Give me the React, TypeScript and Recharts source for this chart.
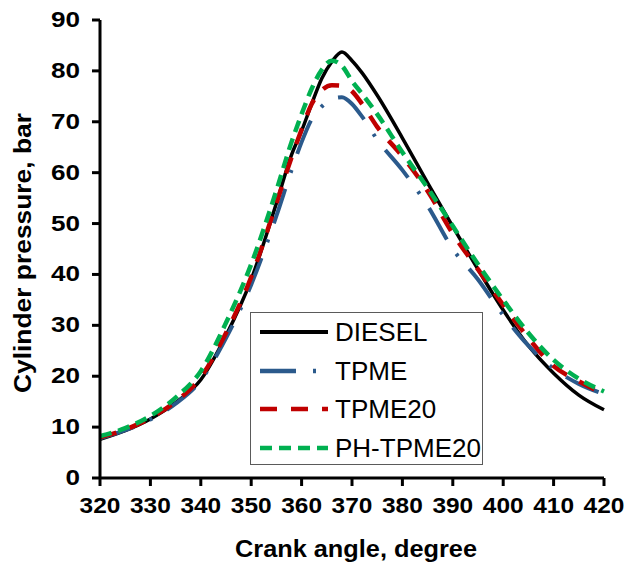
import React from "react";
import { LineChart, Line, XAxis, YAxis, Legend, Label } from "recharts";

// crank angle (deg) sample points
const angles = [
  320, 325, 330, 335, 340, 345, 350, 355, 358, 360, 362, 364, 366, 368, 370,
  372, 375, 380, 385, 390, 395, 400, 405, 410, 415, 420,
];

// cylinder pressure (bar)
const diesel = [
  7.6, 9.3, 11.6, 14.8, 19.3, 28, 39, 54, 63.5, 68.2, 73.5, 78.5, 81.8, 83.7,
  82, 79.6, 75.2, 66.8, 58, 49.4, 41, 33, 26, 20.6, 16.3, 13.4,
];
const tpme = [
  7.8, 9.4, 11.5, 14.6, 19.2, 27.5, 38, 51.5, 60.5, 66, 70.5, 73, 74.5, 74.8,
  73.5, 71, 66.5, 60.5, 53.5, 45, 39, 32, 26, 21.5, 18.5, 16.5,
];
const tpme20 = [
  8, 9.5, 11.8, 15, 19.8, 28.5, 39.5, 54, 63, 68.5, 73.5, 76.2, 77.2, 77.1, 76,
  73.5, 69, 63.2, 56.4, 48, 41, 34, 27.5, 22, 19, 16.5,
];
const phTpme20 = [
  8.2, 9.8, 12.2, 15.8, 21, 30.5, 42, 56.5, 66, 71.5, 76.5, 80.2, 82, 81, 78,
  75.5, 71.5, 64, 57, 49.5, 42, 35, 28.5, 23.2, 19.5, 17,
];

const xTicks = [320, 330, 340, 350, 360, 370, 380, 390, 400, 410, 420];
const yTicks = [0, 10, 20, 30, 40, 50, 60, 70, 80, 90];

const FONT = "'Liberation Sans', Arial, sans-serif";

const series = [
  { key: "diesel", name: "DIESEL", color: "#000000", width: 3.5, dash: undefined },
  { key: "tpme", name: "TPME", color: "#2B5A8C", width: 4, dash: "36 17 3 17" },
  { key: "tpme20", name: "TPME20", color: "#C00000", width: 4.5, dash: "17 14" },
  { key: "phTpme20", name: "PH-TPME20", color: "#00B050", width: 4.5, dash: "12 7" },
];

const data = angles.map((a, i) => ({
  angle: a,
  diesel: diesel[i],
  tpme: tpme[i],
  tpme20: tpme20[i],
  phTpme20: phTpme20[i],
}));

// tick labels are a bit wider than plain Arial in the original, so stretch them
const YTick = (props: any) => {
  const { x, y, payload } = props;
  const s = String(payload.value);
  return (
    <text
      x={x}
      y={y}
      dy={7}
      textAnchor="end"
      fontFamily={FONT}
      fontWeight="bold"
      fontSize={22.5}
      fill="#000"
      textLength={s.length * 14.5}
      lengthAdjust="spacingAndGlyphs"
    >
      {s}
    </text>
  );
};

const XTick = (props: any) => {
  const { x, y, payload } = props;
  const s = String(payload.value);
  return (
    <text
      x={x}
      y={y}
      dy={23}
      textAnchor="middle"
      fontFamily={FONT}
      fontWeight="bold"
      fontSize={22.5}
      fill="#000"
      textLength={s.length * 13.6}
      lengthAdjust="spacingAndGlyphs"
    >
      {s}
    </text>
  );
};

const YTitle = () => {
  const cx = 24;
  const cy = 253;
  return (
    <text
      x={cx}
      y={cy}
      dy={7}
      transform={`rotate(-90, ${cx}, ${cy})`}
      textAnchor="middle"
      fontFamily={FONT}
      fontWeight="bold"
      fontSize={23}
      fill="#000"
      textLength={280}
      lengthAdjust="spacingAndGlyphs"
    >
      Cylinder pressure, bar
    </text>
  );
};

const XTitle = (props: any) => {
  const vb = props.viewBox || { x: 100, width: 504, y: 478 };
  return (
    <text
      x={vb.x + vb.width / 2 + 4}
      y={557}
      textAnchor="middle"
      fontFamily={FONT}
      fontWeight="bold"
      fontSize={23}
      fill="#000"
      textLength={242}
      lengthAdjust="spacingAndGlyphs"
    >
      Crank angle, degree
    </text>
  );
};

const LegendBox = () => (
  <div
    style={{
      width: 233,
      height: 153,
      boxSizing: "border-box",
      border: "1.5px solid #5a5a5a",
      background: "#fff",
      fontFamily: FONT,
      fontSize: 26,
      lineHeight: 1,
      color: "#000",
    }}
  >
    {series.map((s) => (
      <div
        key={s.key}
        style={{ height: 38.5, display: "flex", alignItems: "center" }}
      >
        <svg width={80} height={10} style={{ marginLeft: 9 }}>
          <line
            x1={0}
            y1={5}
            x2={68}
            y2={5}
            stroke={s.color}
            strokeWidth={s.key === "diesel" ? 4 : 4.5}
            strokeDasharray={s.dash}
          />
        </svg>
        <span style={{ marginLeft: -5 }}>{s.name}</span>
      </div>
    ))}
  </div>
);

export default function App() {
  return (
    <div style={{ position: "absolute", left: 0, top: 0, background: "#fff" }}>
      <LineChart
        width={627}
        height={564}
        data={data}
        margin={{ top: 20, right: 23, bottom: 0, left: 0 }}
      >
        <XAxis
          dataKey="angle"
          type="number"
          domain={[320, 420]}
          ticks={xTicks}
          interval={0}
          height={86}
          axisLine={{ stroke: "#000", strokeWidth: 3 }}
          tickLine={{ stroke: "#000", strokeWidth: 3 }}
          tickSize={8}
          tickMargin={4}
          tick={<XTick />}
        >
          <Label content={<XTitle />} />
        </XAxis>
        <YAxis
          type="number"
          domain={[0, 90]}
          ticks={yTicks}
          interval={0}
          width={100}
          axisLine={{ stroke: "#000", strokeWidth: 3 }}
          tickLine={{ stroke: "#000", strokeWidth: 3 }}
          tickSize={8}
          tickMargin={12}
          tick={<YTick />}
        >
          <Label content={<YTitle />} />
        </YAxis>
        <Legend
          layout="vertical"
          align="center"
          verticalAlign="middle"
          content={<LegendBox />}
          wrapperStyle={{ position: "absolute", left: 250, top: 312, width: 233 }}
        />
        {series.map((s) => (
          <Line
            key={s.key}
            type="monotone"
            dataKey={s.key}
            name={s.name}
            stroke={s.color}
            strokeWidth={s.width}
            strokeDasharray={s.dash}
            dot={false}
            activeDot={false}
            isAnimationActive={false}
          />
        ))}
      </LineChart>
    </div>
  );
}
